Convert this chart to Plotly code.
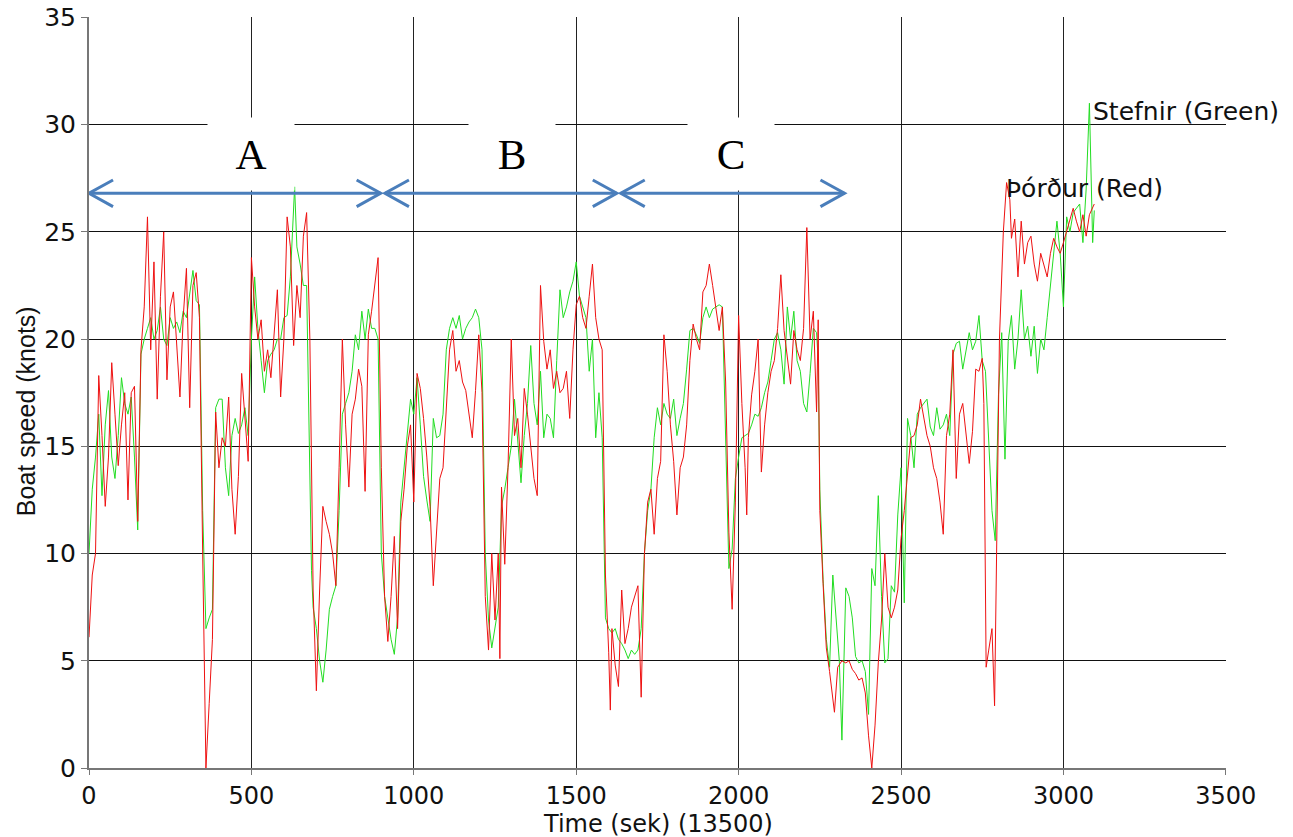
import plotly.graph_objects as go

# ---------------- data ----------------
red_time = [0, 10, 20, 30, 40, 50, 60, 70, 80, 90, 100, 110, 120, 130, 140, 150, 160, 170, 180, 190,
            200, 210, 220, 230, 240, 250, 260, 270, 280, 290, 300, 310, 320, 330, 340, 350, 360, 370, 380, 390,
            400, 410, 420, 430, 440, 450, 460, 470, 480, 490, 500, 510, 520, 530, 540, 550, 560, 570, 580, 590,
            600, 610, 620, 630, 640, 650, 660, 670, 680, 690, 700, 710, 720, 730, 740, 750, 760, 770, 780, 790,
            800, 810, 820, 830, 840, 850, 860, 870, 880, 890, 900, 910, 920, 930, 940, 950, 960, 970, 980, 990,
            1000, 1010, 1020, 1030, 1040, 1050, 1060, 1070, 1080, 1090, 1100, 1110, 1120, 1130, 1140, 1150,
            1160, 1170, 1180, 1190, 1200, 1210, 1220, 1230, 1240, 1250, 1260, 1265, 1270, 1280, 1290, 1300,
            1310, 1320, 1330, 1340, 1350, 1360, 1370, 1380, 1390, 1400, 1410, 1420, 1430, 1440, 1450, 1460,
            1470, 1480, 1490, 1500, 1510, 1520, 1530, 1540, 1550, 1560, 1570, 1580, 1590, 1600, 1605, 1610,
            1620, 1630, 1640, 1650, 1660, 1670, 1680, 1690, 1700, 1710, 1720, 1730, 1740, 1750, 1760, 1770,
            1780, 1790, 1800, 1810, 1820, 1830, 1840, 1850, 1860, 1870, 1880, 1890, 1900, 1910, 1920, 1930,
            1940, 1950, 1960, 1970, 1980, 1990, 2000, 2010, 2020, 2025, 2030, 2040, 2050, 2060, 2070, 2080,
            2090, 2100, 2110, 2120, 2130, 2140, 2150, 2160, 2170, 2180, 2190, 2200, 2210, 2220, 2230, 2240,
            2245, 2250, 2260, 2270, 2280, 2290, 2295, 2305, 2318, 2330, 2340, 2350, 2360, 2370, 2380, 2390,
            2400, 2410, 2420, 2430, 2440, 2450, 2460, 2470, 2480, 2490, 2500, 2510, 2520, 2530, 2540, 2550,
            2560, 2570, 2580, 2590, 2600, 2610, 2620, 2630, 2640, 2650, 2660, 2670, 2680, 2690, 2700, 2710,
            2720, 2730, 2740, 2750, 2755, 2762, 2770, 2780, 2788, 2795, 2803, 2815, 2825, 2835, 2840, 2850,
            2860, 2870, 2880, 2890, 2900, 2910, 2920, 2930, 2940, 2950, 2960, 2970, 2980, 2990, 3000, 3010,
            3020, 3030, 3040, 3050, 3060, 3070, 3080, 3090, 3095]
red_speed = [6.1, 9.0, 10.0, 18.3, 15.5, 12.2, 14.5, 18.9, 16.5, 14.1, 16.0, 17.5, 12.5, 17.5, 17.8, 11.5, 19.5, 21.5, 25.7, 19.5,
             23.6, 17.2, 22.0, 25.0, 18.1, 21.5, 22.2, 20.0, 17.3, 21.0, 23.3, 16.8, 22.5, 23.1, 21.0, 10.0, 0.0, 3.0, 6.0, 16.6,
             14.0, 15.4, 15.0, 17.3, 13.0, 10.9, 13.6, 18.4, 16.5, 14.3, 23.8, 21.5, 20.0, 20.9, 18.5, 19.5, 18.2, 20.5, 22.3, 17.3,
             20.0, 25.7, 24.3, 19.7, 22.5, 21.0, 24.8, 25.9, 20.0, 8.3, 3.6, 8.3, 12.2, 11.5, 10.9, 10.0, 8.5, 14.0, 20.0, 16.0,
             13.1, 16.5, 17.2, 18.6, 17.8, 12.9, 20.2, 21.3, 22.5, 23.8, 14.0, 8.0, 5.9, 8.0, 10.8, 6.5, 11.5, 13.0, 15.0, 16.0,
             12.4, 18.4, 17.7, 16.3, 14.5, 12.2, 8.5, 11.0, 13.5, 14.0, 17.0, 19.5, 20.4, 18.5, 19.0, 18.0,
             17.6, 16.5, 15.4, 17.6, 20.2, 17.5, 8.0, 5.5, 10.0, 6.9, 10.0, 5.1, 13.1, 9.5, 14.0, 20.0,
             15.5, 16.3, 14.0, 17.7, 16.5, 15.0, 13.5, 12.7, 22.5, 19.9, 18.6, 19.5, 17.7, 18.5, 17.5, 17.7,
             18.5, 16.3, 19.5, 21.6, 22.0, 21.0, 20.5, 22.0, 23.5, 21.0, 20.0, 19.5, 9.0, 5.4, 2.7, 6.5,
             4.8, 3.8, 8.3, 5.8, 6.5, 7.5, 8.0, 8.5, 3.3, 10.0, 12.4, 13.0, 10.9, 13.5, 14.3, 20.2,
             18.5, 16.0, 14.3, 11.8, 14.0, 14.5, 16.0, 19.0, 20.7, 20.0, 19.5, 22.2, 22.5, 23.5, 22.5, 21.5,
             20.4, 21.5, 18.0, 11.0, 7.4, 12.4, 21.1, 17.0, 14.0, 11.8, 15.4, 17.4, 18.5, 20.0, 13.8, 16.0,
             17.5, 18.5, 19.0, 20.5, 23.0, 20.4, 19.0, 17.9, 20.4, 19.5, 19.0, 20.5, 25.2, 20.0, 21.3, 16.6,
             20.9, 12.0, 8.6, 5.6, 4.5, 3.3, 2.6, 4.7, 5.0, 4.9, 5.0, 4.6, 4.4, 4.1, 4.2, 3.5,
             1.5, 0.0, 2.0, 4.9, 6.9, 10.0, 7.5, 7.0, 7.5, 8.3, 10.7, 12.0, 13.6, 15.4, 15.5, 16.0,
             17.2, 16.3, 15.5, 15.0, 14.0, 13.5, 12.4, 10.9, 15.5, 16.5, 19.5, 13.5, 16.5, 17.0, 15.5, 14.2,
             15.7, 18.6, 18.5, 19.1, 17.0, 4.7, 5.5, 6.5, 2.9, 10.0, 20.0, 25.0, 27.3, 26.5, 24.7, 25.6,
             22.9, 25.5, 23.5, 24.5, 24.8, 23.5, 22.7, 24.0, 23.5, 22.9, 24.0, 24.7, 24.3, 24.0, 24.5, 25.0,
             25.5, 26.1, 25.5, 25.0, 25.8, 24.8, 25.8, 26.1, 26.3]

green_time = [0, 10, 20, 30, 40, 50, 60, 70, 80, 90, 100, 110, 120, 130, 140, 150, 160, 170, 180, 190,
              200, 210, 220, 230, 240, 250, 260, 270, 280, 290, 300, 310, 320, 330, 340, 350, 360, 370, 380, 390,
              400, 410, 420, 430, 440, 450, 460, 470, 480, 490, 500, 510, 520, 530, 540, 550, 560, 570, 580, 590,
              600, 610, 620, 633, 640, 650, 660, 670, 678, 685, 690, 700, 710, 720, 730, 740, 750, 760, 770, 780,
              790, 800, 810, 820, 830, 840, 850, 860, 870, 880, 890, 900, 910, 920, 930, 940, 950, 960, 970, 980,
              990, 1000, 1010, 1020, 1030, 1040, 1050, 1060, 1070, 1080, 1090, 1100, 1110, 1120, 1130, 1140,
              1150, 1160, 1170, 1180, 1190, 1200, 1210, 1220, 1230, 1240, 1250, 1260, 1270, 1280, 1290, 1300,
              1310, 1320, 1330, 1340, 1350, 1360, 1370, 1380, 1390, 1400, 1410, 1420, 1430, 1440, 1450, 1460,
              1470, 1480, 1490, 1500, 1510, 1520, 1530, 1540, 1550, 1560, 1570, 1580, 1590, 1600, 1610, 1620,
              1630, 1640, 1650, 1660, 1670, 1680, 1690, 1700, 1710, 1720, 1730, 1740, 1750, 1760, 1770, 1780,
              1790, 1800, 1810, 1820, 1830, 1840, 1850, 1860, 1870, 1880, 1890, 1900, 1910, 1920, 1930, 1940,
              1950, 1960, 1970, 1980, 1990, 2000, 2010, 2020, 2030, 2040, 2050, 2060, 2070, 2080, 2090, 2100,
              2110, 2120, 2130, 2140, 2150, 2160, 2170, 2180, 2190, 2200, 2210, 2220, 2230, 2240, 2245, 2250,
              2260, 2270, 2280, 2290, 2300, 2310, 2318, 2330, 2340, 2350, 2360, 2370, 2380, 2390, 2400, 2410,
              2420, 2430, 2440, 2450, 2460, 2470, 2480, 2490, 2500, 2510, 2520, 2530, 2540, 2550, 2560, 2570,
              2580, 2590, 2600, 2610, 2620, 2630, 2640, 2650, 2660, 2670, 2680, 2690, 2700, 2710, 2720, 2730,
              2740, 2750, 2760, 2770, 2780, 2790, 2800, 2810, 2820, 2830, 2840, 2850, 2860, 2870, 2880, 2890,
              2900, 2910, 2920, 2930, 2940, 2950, 2960, 2970, 2980, 2990, 3000, 3010, 3020, 3030, 3040, 3050,
              3060, 3070, 3080, 3090, 3095]
green_speed = [10.0, 13.0, 14.5, 16.5, 12.7, 16.0, 17.6, 14.5, 13.5, 15.5, 18.2, 17.0, 16.5, 17.3, 14.5, 11.1, 19.3, 20.0, 20.5, 21.0,
               20.0, 20.4, 21.5, 20.0, 19.7, 21.0, 20.5, 20.8, 20.3, 21.3, 21.0, 22.0, 23.2, 21.8, 21.6, 12.0, 6.5, 7.0, 7.4, 16.8,
               17.2, 17.2, 14.0, 12.7, 15.5, 16.3, 15.6, 16.0, 16.8, 15.5, 20.0, 22.9, 20.5, 19.0, 17.5, 19.0, 19.3, 19.5, 20.0, 20.0,
               21.0, 21.1, 22.9, 27.1, 24.3, 23.5, 22.5, 22.5, 15.0, 9.2, 7.5, 6.5, 5.0, 4.0, 5.5, 7.4, 8.0, 8.5, 12.0, 16.5,
               17.0, 17.5, 18.5, 20.2, 19.5, 21.3, 20.0, 21.4, 20.5, 20.5, 20.0, 10.0, 8.0, 7.0, 6.0, 5.3, 7.0, 12.4, 14.0, 15.8,
               17.2, 16.5, 18.2, 16.0, 13.6, 12.5, 11.5, 16.3, 15.4, 15.5, 16.5, 19.5, 20.5, 21.0, 20.5, 21.1,
               20.0, 20.5, 20.8, 21.0, 21.4, 21.0, 19.5, 10.0, 6.9, 5.6, 6.5, 7.5, 12.2, 13.0, 14.0, 15.0,
               17.2, 15.0, 13.3, 15.5, 17.0, 19.7, 17.0, 16.0, 18.5, 15.4, 16.5, 16.3, 15.4, 19.0, 22.3, 21.0,
               21.5, 22.2, 22.7, 23.6, 22.0, 21.5, 21.0, 18.5, 20.0, 15.4, 17.5, 15.4, 7.0, 6.5, 6.3, 6.5,
               6.0, 5.8, 5.5, 5.1, 5.5, 5.3, 5.5, 6.5, 10.0, 12.0, 13.0, 15.4, 16.8, 16.0, 17.0, 16.5,
               16.3, 17.2, 15.5, 16.3, 17.0, 18.6, 20.4, 20.5, 20.2, 19.8, 21.0, 21.5, 21.0, 21.4, 21.5, 21.6,
               21.5, 15.0, 9.3, 10.2, 13.5, 14.5, 15.4, 15.5, 15.6, 16.0, 16.5, 16.4, 16.8, 17.5, 18.0, 19.0,
               20.0, 20.3, 19.5, 17.9, 21.5, 20.0, 21.3, 19.0, 18.5, 17.0, 16.6, 18.4, 20.5, 20.3, 19.0, 13.0,
               8.8, 6.0, 4.7, 9.0, 7.0, 5.0, 1.3, 8.4, 8.0, 7.0, 5.2, 4.9, 5.0, 4.5, 2.5, 9.3,
               8.5, 12.7, 8.0, 4.9, 5.1, 8.5, 8.2, 11.8, 14.0, 7.7, 16.3, 15.5, 14.0, 16.5, 16.8, 17.0,
               17.2, 15.9, 15.5, 16.8, 15.8, 16.0, 16.5, 15.5, 19.3, 19.8, 19.9, 18.6, 19.5, 20.3, 19.5, 19.9,
               21.1, 19.0, 18.5, 15.0, 12.0, 10.6, 17.4, 20.3, 14.4, 19.9, 21.1, 18.6, 20.0, 22.3, 20.0, 20.6,
               19.2, 20.6, 18.4, 20.0, 19.5, 21.0, 22.5, 23.9, 25.5, 24.0, 21.5, 25.7, 25.0, 25.9, 26.1, 26.3,
               24.5, 27.0, 31.0, 24.5, 26.0]

x_ticks = [0, 500, 1000, 1500, 2000, 2500, 3000, 3500]
y_ticks = [0, 5, 10, 15, 20, 25, 30, 35]

phase_labels = ["A", "B", "C"]
phase_label_x = [500, 1302, 1978]
phase_start = [0, 911, 1637]
phase_end = [898, 1625, 2326]
phase_arrow_y = 26.8
phase_label_y = 28.65

boat_names = ["Stefnir (Green)", "Þórður (Red)"]
boat_label_x = [3086, 2818]
boat_label_y = [30.6, 27.0]

# ---------------- figure ----------------
# The page body adds an 8 px offset, so the figure is 8 px smaller and margins shifted.
fig = go.Figure()
fig.add_trace(go.Scatter(x=green_time, y=green_speed, mode="lines",
                         line=dict(color="#22dd22", width=1), name="Stefnir", showlegend=False))
fig.add_trace(go.Scatter(x=red_time, y=red_speed, mode="lines",
                         line=dict(color="#ee1111", width=1), name="Þórður", showlegend=False))

arrow_col = "#4a7ebb"
head_dx = 74      # seconds (~24 px)
head_dy = 0.62    # knots (~13 px)
shapes = []
for s, e in zip(phase_start, phase_end):
    shapes.append(dict(type="line", x0=s, x1=e, y0=phase_arrow_y, y1=phase_arrow_y,
                       line=dict(color=arrow_col, width=3)))
    shapes.append(dict(type="path",
                       path=f"M {s+head_dx},{phase_arrow_y+head_dy} L {s},{phase_arrow_y} L {s+head_dx},{phase_arrow_y-head_dy}",
                       line=dict(color=arrow_col, width=3)))
    shapes.append(dict(type="path",
                       path=f"M {e-head_dx},{phase_arrow_y+head_dy} L {e},{phase_arrow_y} L {e-head_dx},{phase_arrow_y-head_dy}",
                       line=dict(color=arrow_col, width=3)))

annotations = []
for lab, lx in zip(phase_labels, phase_label_x):
    annotations.append(dict(x=lx, y=phase_label_y, xref="x", yref="y", text=lab, showarrow=False,
                            font=dict(family="Liberation Serif", size=43, color="black"),
                            bgcolor="white", width=84, height=70, xanchor="center", yanchor="middle"))
for name, bx, by in zip(boat_names, boat_label_x, boat_label_y):
    annotations.append(dict(x=bx, y=by, xref="x", yref="y", text=name, showarrow=False,
                            font=dict(family="DejaVu Sans", size=25, color="#111111"),
                            xanchor="left", yanchor="middle"))
# axis titles
annotations.append(dict(x=0.5, y=-0.0745, xref="paper", yref="paper",
                        text="Time (sek) (13500)", showarrow=False,
                        font=dict(family="DejaVu Sans", size=24, color="#111111"),
                        xanchor="center", yanchor="middle"))
annotations.append(dict(x=-0.0555, y=0.475, xref="paper", yref="paper",
                        text="Boat speed (knots)", showarrow=False, textangle=-90,
                        font=dict(family="Liberation Sans", size=25, color="#111111"),
                        xanchor="center", yanchor="middle"))

fig.update_layout(
    width=1285, height=829,
    margin=dict(l=81, r=67, t=9, b=69, autoexpand=False),
    paper_bgcolor="white", plot_bgcolor="white",
    showlegend=False,
    shapes=shapes, annotations=annotations,
    xaxis=dict(range=[0, 3500.5], tickvals=x_ticks, ticktext=[str(v) for v in x_ticks],
               showgrid=True, gridcolor="#222222", gridwidth=1,
               showline=True, linecolor="#777777", linewidth=2,
               ticks="outside", ticklen=5, tickcolor="#777777",
               tickfont=dict(family="DejaVu Sans", size=24, color="#111111"),
               ticklabeloverflow="allow",
               zeroline=False, automargin=False),
    yaxis=dict(range=[0, 35.02], tickvals=y_ticks, ticktext=[str(v) for v in y_ticks],
               showgrid=True, gridcolor="#111111", gridwidth=1,
               showline=True, linecolor="#777777", linewidth=2,
               ticks="outside", ticklen=6, tickcolor="#777777",
               tickfont=dict(family="DejaVu Sans", size=25, color="#111111"),
               ticklabeloverflow="allow",
               zeroline=False, automargin=False),
)

fig.write_html("out.html")
